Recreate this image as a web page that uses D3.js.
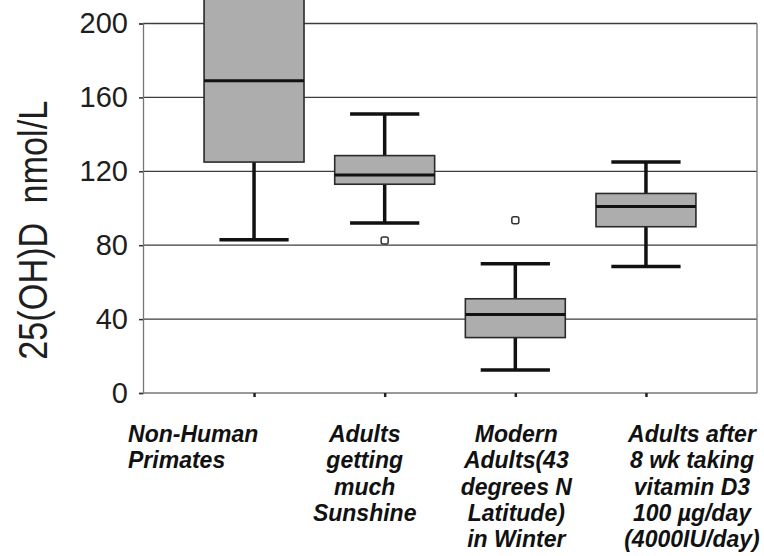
<!DOCTYPE html>
<html>
<head>
<meta charset="utf-8">
<script src="https://cdn.jsdelivr.net/npm/d3@7"></script>
<style>
    body { margin: 0; background: #fff; }
    svg { display: block; font-family: 'Liberation Sans', Arial, sans-serif; }
</style>
</head>
<body>
<div id="chart"></div>
<script>
'use strict';

// groups on the x axis
const categories = ['primates', 'sunshine', 'winter', 'supplement'];
const categoryLabels = [
    ['Non-Human', 'Primates'],
    ['Adults', 'getting', 'much', 'Sunshine'],
    ['Modern', 'Adults(43', 'degrees N', 'Latitude)', 'in Winter'],
    ['Adults after', '8 wk taking', 'vitamin D3', '100 \u00b5g/day', '(4000IU/day)']
];

// box statistics, 25(OH)D nmol/L
const whiskerLow = [83, 92, 12.5, 68.5];
const quartile1 = [125, 113, 30, 90];
const medians = [169, 118, 42.5, 101];
const quartile3 = [215, 128.5, 51, 108];
const whiskerHigh = [240, 151, 70, 125];
const outliers = [[], [82.5], [93.5], []];

const yTicks = [0, 40, 80, 120, 160, 200];

const width = 764;
const height = 556;
const margin = { left: 143, right: 7, top: 23.5, bottom: 163 };

const svg = d3.select('#chart')
    .append('svg')
    .attr('width', width)
    .attr('height', height);

const boxes = categories.map(function (c, i) {
    return {
        key: c,
        lo: whiskerLow[i],
        q1: quartile1[i],
        med: medians[i],
        q3: quartile3[i],
        hi: whiskerHigh[i],
        out: outliers[i]
    };
});

// scales
const xScale = d3.scalePoint()
    .domain(categories)
    .range([margin.left, width - margin.right])
    .padding(0.85);

const yScale = d3.scaleLinear()
    .domain([0, 200])
    .range([height - margin.bottom, margin.top]);

const boxWidth = xScale.step() * 0.765;
const capWidth = xScale.step() * 0.53;

// gridlines
svg.append('g')
    .selectAll('line')
    .data(yTicks.filter(function (d) { return d > 0; }))
    .join('line')
    .attr('x1', margin.left)
    .attr('x2', width - margin.right)
    .attr('y1', function (d) { return yScale(d); })
    .attr('y2', function (d) { return yScale(d); })
    .attr('stroke', '#3c3c3c')
    .attr('stroke-width', 1.3);

// right border of plot area
svg.append('line')
    .attr('x1', width - margin.right)
    .attr('x2', width - margin.right)
    .attr('y1', yScale(200))
    .attr('y2', yScale(0))
    .attr('stroke', '#777')
    .attr('stroke-width', 1.3);

// y axis
const yAxis = d3.axisLeft(yScale)
    .tickValues(yTicks)
    .tickSize(4)
    .tickPadding(11);

const yAxisG = svg.append('g')
    .attr('transform', `translate(${margin.left},0)`)
    .call(yAxis);
yAxisG.select('.domain').attr('stroke', '#777').attr('stroke-width', 1.3);
yAxisG.selectAll('.tick line').attr('stroke', '#333').attr('stroke-width', 1.5);
yAxisG.selectAll('.tick text')
    .attr('font-size', 29)
    .attr('font-family', "'Liberation Sans', Arial, sans-serif")
    .attr('fill', '#1e1e1e');

// x axis
const xAxis = d3.axisBottom(xScale)
    .tickSize(4)
    .tickFormat('');

const xAxisG = svg.append('g')
    .attr('transform', `translate(0,${yScale(0)})`)
    .call(xAxis);
xAxisG.select('.domain')
    .attr('d', `M${margin.left},0H${width - margin.right}`)
    .attr('stroke', '#777')
    .attr('stroke-width', 1.3);
xAxisG.selectAll('.tick line').attr('stroke', '#222').attr('stroke-width', 2.5);

// whiskers
const boxG = svg.append('g');

boxG.selectAll('line.whisker')
    .data(boxes)
    .join('line')
    .attr('class', 'whisker')
    .attr('x1', function (d) { return xScale(d.key); })
    .attr('x2', function (d) { return xScale(d.key); })
    .attr('y1', function (d) { return yScale(d.lo); })
    .attr('y2', function (d) { return yScale(d.hi); })
    .attr('stroke', '#111')
    .attr('stroke-width', 3.5);

const caps = boxes.flatMap(function (d) {
    return [{ key: d.key, v: d.lo }, { key: d.key, v: d.hi }];
});

boxG.selectAll('line.cap')
    .data(caps)
    .join('line')
    .attr('class', 'cap')
    .attr('x1', function (d) { return xScale(d.key) - capWidth / 2; })
    .attr('x2', function (d) { return xScale(d.key) + capWidth / 2; })
    .attr('y1', function (d) { return yScale(d.v); })
    .attr('y2', function (d) { return yScale(d.v); })
    .attr('stroke', '#111')
    .attr('stroke-width', 3.5);

// boxes
boxG.selectAll('rect.box')
    .data(boxes)
    .join('rect')
    .attr('class', 'box')
    .attr('x', function (d) { return xScale(d.key) - boxWidth / 2; })
    .attr('width', boxWidth)
    .attr('y', function (d) { return yScale(d.q3); })
    .attr('height', function (d) { return yScale(d.q1) - yScale(d.q3); })
    .attr('fill', '#adadad')
    .attr('stroke', '#2a2a2a')
    .attr('stroke-width', 1.6);

// medians
boxG.selectAll('line.median')
    .data(boxes)
    .join('line')
    .attr('class', 'median')
    .attr('x1', function (d) { return xScale(d.key) - boxWidth / 2; })
    .attr('x2', function (d) { return xScale(d.key) + boxWidth / 2; })
    .attr('y1', function (d) { return yScale(d.med); })
    .attr('y2', function (d) { return yScale(d.med); })
    .attr('stroke', '#111')
    .attr('stroke-width', 3);

// outliers
const outlierPoints = boxes.flatMap(function (d) {
    return d.out.map(function (v) {
        return { key: d.key, v: v };
    });
});

boxG.selectAll('rect.outlier')
    .data(outlierPoints)
    .join('rect')
    .attr('class', 'outlier')
    .attr('x', function (d) { return xScale(d.key) - 3.5; })
    .attr('y', function (d) { return yScale(d.v) - 3.5; })
    .attr('width', 7)
    .attr('height', 7)
    .attr('rx', 2)
    .attr('fill', '#fff')
    .attr('stroke', '#333')
    .attr('stroke-width', 1.5);

// y axis title
svg.append('text')
    .attr('transform', `translate(47,${yScale(100) + 22}) rotate(-90)`)
    .attr('text-anchor', 'middle')
    .attr('font-size', 40)
    .attr('textLength', 259)
    .attr('lengthAdjust', 'spacingAndGlyphs')
    .attr('fill', '#1e1e1e')
    .style('white-space', 'pre')
    .text('25(OH)D  nmol/L');

// category labels, placed like the text boxes of the original
const labelDx = [-126, -20, 1, 46];
const labelAnchor = ['start', 'middle', 'middle', 'middle'];
const labelTop = yScale(0) + 49;
const lineStep = 26.3;

const labelG = svg.append('g')
    .attr('font-size', 23)
    .attr('font-weight', 700)
    .attr('font-style', 'italic')
    .attr('fill', '#111');

categories.forEach(function (c, i) {
    labelG.append('text')
        .attr('text-anchor', labelAnchor[i])
        .selectAll('tspan')
        .data(categoryLabels[i])
        .join('tspan')
        .attr('x', xScale(c) + labelDx[i])
        .attr('y', function (d, j) { return labelTop + j * lineStep; })
        .text(function (d) { return d; });
});
</script>
</body>
</html>
